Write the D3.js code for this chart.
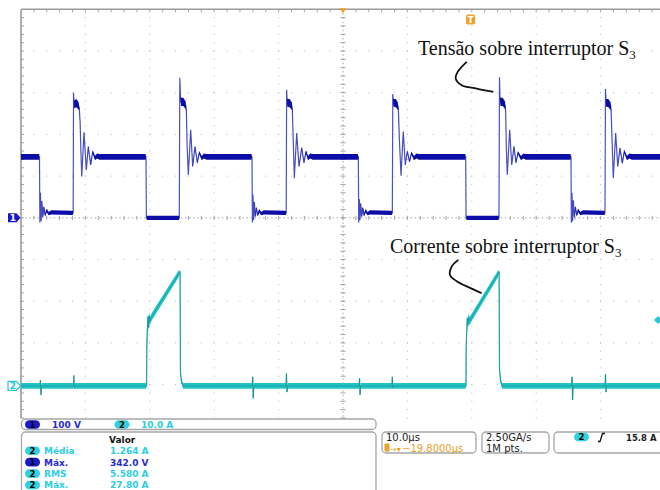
<!DOCTYPE html>
<html><head><meta charset="utf-8">
<script src="https://cdn.jsdelivr.net/npm/d3@7"></script>
<style>html,body{margin:0;padding:0;background:#fff;} svg{display:block;}</style>
</head><body>
<svg id="c" width="660" height="490"></svg>
<script>
// ---------------- DATA ----------------
// Channel 1: voltage across switch S3  [time µs, volts, noise band ±V]
const ch1Trace = [
 [0.00,146,7],[2.82,146,7],[2.87,146,0],[2.93,-11,0],[3.02,60,2],[3.12,-8,2],[3.24,40,2],[3.38,2,3],[3.55,26,3],[3.75,6,3],[3.98,18,4],[4.3,10,4],[4.7,13,5],
 [8.05,12,5],[8.10,12,0],[8.16,300,0],[8.24,272,9],[8.6,275,10],[8.95,268,9],[9.05,262,3],[9.18,230,1],[9.30,160,1],[9.43,99,1],[9.78,205,1],[10.14,115,1],[10.45,171,2],[10.82,127,2],[11.13,159,3],[11.49,143,5],[11.8,148,6],[12.2,146,7],
 [19.35,146,7],[19.41,146,0],[19.47,0,0],[19.55,0,5],
 [24.52,0,5],[24.58,0,0],[24.66,336,0],[24.76,290,4],[24.84,278,10],[25.2,278,10],[25.57,270,9],[25.68,255,2],[25.80,170,1],[25.98,103,1],[26.35,211,1],[26.66,123,1],[27.02,171,2],[27.38,132,2],[27.69,156,3],[28.06,143,5],[28.4,148,6],[28.8,146,7],
 [35.80,146,7],[35.87,146,0],[35.93,-11,0],[36.02,55,2],[36.12,-6,2],[36.24,38,2],[36.38,3,3],[36.55,24,3],[36.75,6,3],[36.98,17,4],[37.3,10,4],[37.7,13,5],
 [41.13,12,5],[41.18,12,0],[41.25,307,0],[41.33,276,9],[41.7,275,10],[42.05,268,9],[42.13,260,3],[42.25,200,1],[42.44,95,1],[42.81,203,1],[43.17,123,1],[43.59,168,2],[43.94,132,2],[44.25,159,3],[44.57,143,5],[44.9,148,6],[45.3,146,7],
 [52.32,146,7],[52.38,146,0],[52.44,-11,0],[52.53,45,2],[52.63,-6,2],[52.75,35,2],[52.9,3,3],[53.07,24,3],[53.27,6,3],[53.5,17,4],[53.8,10,4],[54.2,13,5],
 [57.60,12,5],[57.66,12,0],[57.73,297,0],[57.81,276,9],[58.2,275,10],[58.52,268,9],[58.6,260,3],[58.75,190,1],[59.01,101,1],[59.36,207,1],[59.67,127,1],[59.98,159,2],[60.33,135,2],[60.64,155,3],[61.02,143,5],[61.4,148,6],[61.8,146,7],
 [68.99,146,7],[69.05,146,0],[69.11,0,0],[69.18,0,5],
 [74.16,0,5],[74.22,0,0],[74.30,337,0],[74.38,285,4],[74.45,278,10],[74.8,278,10],[75.16,270,9],[75.26,255,2],[75.36,170,1],[75.51,103,1],[75.88,211,1],[76.20,127,1],[76.55,171,2],[76.86,132,2],[77.17,156,3],[77.64,143,5],[78.0,148,6],[78.4,146,7],
 [85.34,146,7],[85.40,146,0],[85.46,-12,0],[85.55,60,2],[85.65,-8,2],[85.77,42,2],[85.92,2,3],[86.09,26,3],[86.29,6,3],[86.52,18,4],[86.85,10,4],[87.25,13,5],
 [90.62,12,5],[90.68,12,0],[90.76,309,0],[90.84,276,9],[91.2,275,10],[91.55,268,9],[91.63,260,3],[91.77,190,1],[91.97,95,1],[92.34,203,1],[92.66,123,1],[93.01,167,2],[93.37,131,2],[93.68,159,3],[94.10,143,5],[94.45,148,6],[94.85,146,7],
 [100,146,7]
];
// Channel 2: current through switch S3  [time µs, amperes, noise band ±A]
const ch2Trace = [
 [0,0,0.7],
 [2.95,0,0.7],[3.02,1.4,0],[3.1,-2.2,0],[3.18,0,0.7],
 [8.15,0,0.7],[8.2,2.5,0],[8.28,-0.6,0],[8.35,0,0.7],
 [19.45,0,0.7],[19.50,0,0],[19.54,9.7,0],[19.62,13.4,0.6],[19.72,16.6,1.0],[19.82,14.0,1.2],[19.92,16.8,1.0],[20.03,15.6,1.0],[20.3,16.6,0.9],[24.50,26.9,0.8],[24.64,27.2,0.4],[24.70,27.3,0],[24.76,3.3,0],[24.9,1.2,0.5],[25.16,0,0.7],
 [35.9,0,0.7],[35.98,2.2,0],[36.06,-3.0,0],[36.14,0,0.7],
 [41.15,0,0.7],[41.22,3.0,0],[41.30,-1.5,0],[41.38,0,0.7],
 [52.5,0,0.7],[52.57,1.8,0],[52.65,-2.2,0],[52.73,0,0.7],
 [57.6,0,0.7],[57.66,2.2,0],[57.74,-0.6,0],[57.82,0,0.7],
 [69.05,0,0.7],[69.10,0,0],[69.13,9.7,0],[69.30,16.2,0.8],[69.4,14.5,1.2],[69.5,16.5,1.0],[69.65,15.5,1.0],[69.9,16.2,0.9],[74.05,26.8,0.8],[74.18,27.2,0.4],[74.24,27.3,0],[74.30,4.2,0],[74.45,1.4,0.5],[74.69,0,0.7],
 [85.5,0,0.7],[85.57,2.2,0],[85.65,-3.4,0],[85.73,0,0.7],
 [90.7,0,0.7],[90.76,2.8,0],[90.84,-1.5,0],[90.92,0,0.7],
 [100,0,0.7]
];
// Scope settings / readouts
const voltsPerDiv = 100, ampsPerDiv = 10, usPerDiv = 10;
const ch2OffsetDiv = -4.03;          // ch2 ground position (divisions from centre)
const triggerDelay = 19.8;           // µs, trigger to the right of centre
const triggerLevel = 15.8;           // A
const channelScaleLabels = ["100 V", "10.0 A"];
const measChannels = [2, 1, 2, 2];
const measNames = ["Média", "Máx.", "RMS", "Máx."];
const measValues = ["1.264 A", "342.0 V", "5.580 A", "27.80 A"];
const timebaseText = ["10.0µs", "−19.8000µs"];
const acquisitionText = ["2.50GA/s", "1M pts."];
const triggerText = "15.8 A";
const annotations = ["Tensão sobre interruptor S", "Corrente sobre interruptor S"];
// leader lines, in data units: [µs, V] and [µs, A]
const leaderV = [[69.21,374],[67.81,350],[67.50,334],[68.43,318],[70.76,310],[73.34,302]];
const leaderA = [[67.90,30.2],[66.88,28.6],[66.61,26.6],[67.66,25.1],[69.72,23.5],[71.54,22.2]];

// ---------------- LAYOUT ----------------
const svg = d3.select('#c');
svg.append('rect').attr('width',660).attr('height',490).attr('fill','#fff');
const gx0 = 21, gy0 = 9.3, divX = 64.4, divY = 41.7, plotBottom = 418.5;
const x = d3.scaleLinear().domain([0, 10*usPerDiv]).range([gx0, gx0 + 10*divX]);
const yV = d3.scaleLinear().domain([-5*voltsPerDiv, 5*voltsPerDiv]).range([gy0 + 10*divY, gy0]);
const yA = d3.scaleLinear().domain([(-5 - ch2OffsetDiv)*ampsPerDiv, (5 - ch2OffsetDiv)*ampsPerDiv]).range([gy0 + 10*divY, gy0]);

const grid = svg.append('g');
const dotCol = '#b4b4b4';
// dotted grid lines
for (let k = 1; k < 10; k++) {
  if (k === 5) continue;
  const gx = x(k*usPerDiv);
  for (let j = 1; gy0 + j*divY/5 < plotBottom; j++) {
    grid.append('rect').attr('x', gx-0.5).attr('y', gy0 + j*divY/5 - 0.5).attr('width',1).attr('height',1).attr('fill',dotCol);
  }
}
for (let k = -4; k <= 4; k++) {
  if (k === 0) continue;
  const gy = yV(k*voltsPerDiv);
  for (let i = 1; gx0 + i*divX/5 < 662; i++) {
    grid.append('rect').attr('x', gx0 + i*divX/5 - 0.5).attr('y', gy-0.5).attr('width',1).attr('height',1).attr('fill',dotCol);
  }
}
// centre lines with ticks
const cx = x(5*usPerDiv), cy = yV(0);
grid.append('line').attr('x1',cx).attr('x2',cx).attr('y1',gy0).attr('y2',plotBottom)
  .attr('stroke','#a8a8a8').attr('stroke-width',1).attr('stroke-dasharray','1.5,2.6');
grid.append('line').attr('x1',gx0).attr('x2',662).attr('y1',cy).attr('y2',cy)
  .attr('stroke','#a8a8a8').attr('stroke-width',1).attr('stroke-dasharray','1.5,2.6');
for (let j = 1; gy0 + j*divY/5 < plotBottom; j++) {
  const yy = gy0 + j*divY/5;
  grid.append('line').attr('x1',cx-2.5).attr('x2',cx+2.5).attr('y1',yy).attr('y2',yy).attr('stroke','#999').attr('stroke-width',0.9);
  grid.append('line').attr('x1',gx0).attr('x2',gx0+3).attr('y1',yy).attr('y2',yy).attr('stroke','#999').attr('stroke-width',0.9);
}
for (let i = 1; gx0 + i*divX/5 < 662; i++) {
  const xx = gx0 + i*divX/5;
  grid.append('line').attr('x1',xx).attr('x2',xx).attr('y1',cy-2).attr('y2',cy+2).attr('stroke','#999').attr('stroke-width',0.9);
  grid.append('line').attr('x1',xx).attr('x2',xx).attr('y1',gy0).attr('y2',gy0+3).attr('stroke','#999').attr('stroke-width',0.9);
}
// frame
grid.append('line').attr('x1',gx0).attr('x2',662).attr('y1',gy0).attr('y2',gy0).attr('stroke','#9a9a9a').attr('stroke-width',1.6);
grid.append('line').attr('x1',gx0).attr('x2',gx0).attr('y1',gy0).attr('y2',plotBottom).attr('stroke','#9a9a9a').attr('stroke-width',1.6);

// ---------------- TRACES ----------------
const tr = svg.append('g');
const lineA = d3.line().x(d => x(d[0])).y(d => yA(d[1]));
const areaA = d3.area().x(d => x(d[0])).y0(d => yA(d[1]-d[2])).y1(d => yA(d[1]+d[2]));
tr.append('path').datum(ch2Trace).attr('d', lineA).attr('fill','none').attr('stroke','#3cb8b8').attr('stroke-width',1.2);
tr.append('path').datum(ch2Trace).attr('d', areaA).attr('fill','#22c4c6');
tr.append('path').datum(ch2Trace).attr('d', lineA).attr('fill','none').attr('stroke','#128484').attr('stroke-width',0.7).attr('opacity',0.75);

const lineV = d3.line().x(d => x(d[0])).y(d => yV(d[1]));
const areaV = d3.area().x(d => x(d[0])).y0(d => yV(d[1]-d[2])).y1(d => yV(d[1]+d[2]));
tr.append('path').datum(ch1Trace).attr('d', lineV).attr('fill','none').attr('stroke','#4a52c4').attr('stroke-width',1.2);
tr.append('path').datum(ch1Trace).attr('d', areaV).attr('fill','#0c0ca6');

// ---------------- MARKERS ----------------
const mk = svg.append('g');
// ch1 ground marker
const g1 = yV(0);
mk.append('path').attr('d', `M8,${g1-4.5}H16.5L20.5,${g1}L16.5,${g1+4.5}H8Z`).attr('fill','#1818c8');
mk.append('text').attr('x',13).attr('y',g1+3.3).attr('text-anchor','middle').attr('font-family','DejaVu Sans').attr('font-weight','bold').attr('font-size',9).attr('fill','#fff').text('1');
// ch2 ground marker
const g2 = yA(0);
mk.append('path').attr('d', `M8,${g2-4.5}H16.5L20.5,${g2}L16.5,${g2+4.5}H8Z`).attr('fill','#fff').attr('stroke','#22c8d0').attr('stroke-width',1.2);
mk.append('text').attr('x',13).attr('y',g2+3.3).attr('text-anchor','middle').attr('font-family','DejaVu Sans').attr('font-weight','bold').attr('font-size',9).attr('fill','#22c8d0').text('2');
// expansion point (centre) marker
mk.append('path').attr('d', `M${cx-3.5},${gy0-1}L${cx+3.5},${gy0-1}L${cx},${gy0+4}Z`).attr('fill','#f0a028');
// trigger position marker
const tx = x(5*usPerDiv + triggerDelay);
mk.append('rect').attr('x',tx-4.5).attr('y',14.5).attr('width',9).attr('height',10).attr('rx',2).attr('fill','#f0a028');
mk.append('text').attr('x',tx).attr('y',23).attr('text-anchor','middle').attr('font-family','DejaVu Sans').attr('font-weight','bold').attr('font-size',9).attr('fill','#fff').text('T');
// trigger level marker
const ty = yA(triggerLevel);
mk.append('path').attr('d', `M${658-4},${ty}L658,${ty-4}L${658+4},${ty}L658,${ty+4}Z`).attr('fill','#22c8d8');

// ---------------- ANNOTATIONS ----------------
const an = svg.append('g').attr('font-family','Liberation Serif, Times New Roman, serif').attr('fill','#111');
const t1 = an.append('text').attr('x', x(61.65)).attr('y', yV(390)).attr('font-size',20);
t1.append('tspan').text(annotations[0]);
t1.append('tspan').attr('font-size',13).attr('dy',4).text('3');
const t2 = an.append('text').attr('x', x(57.3)).attr('y', yA(31.9)).attr('font-size',20);
t2.append('tspan').text(annotations[1]);
t2.append('tspan').attr('font-size',13).attr('dy',4).text('3');
const leadV = d3.line().x(d => x(d[0])).y(d => yV(d[1])).curve(d3.curveCatmullRom);
const leadA = d3.line().x(d => x(d[0])).y(d => yA(d[1])).curve(d3.curveCatmullRom);
an.append('path').datum(leaderV).attr('d', leadV).attr('fill','none').attr('stroke','#111').attr('stroke-width',1.8);
an.append('path').datum(leaderA).attr('d', leadA).attr('fill','none').attr('stroke','#111').attr('stroke-width',1.8);

// ---------------- READOUTS ----------------
const ro = svg.append('g').attr('font-family','DejaVu Sans, sans-serif');
const boxStroke = '#a6a6a6';
const blue = '#2a2ad0', cyan = '#2ccfdc';
const chCol = c => c === 1 ? blue : cyan;
const ovalFill = c => c === 1 ? '#1a1ac8' : '#2fd2de';
function oval(g, cxp, cyp, ch) {
  g.append('rect').attr('x', cxp-7.5).attr('y', cyp-4.3).attr('width',15).attr('height',8.6).attr('rx',4.3).attr('fill', ovalFill(ch));
  g.append('text').attr('x', cxp).attr('y', cyp+3.2).attr('text-anchor','middle').attr('font-weight','bold').attr('font-size',8.5).attr('fill','#000').text(ch);
}
ro.append('rect').attr('x',21.5).attr('y',419).attr('width',354.5).attr('height',10.5).attr('rx',4).attr('fill','#fff').attr('stroke',boxStroke).attr('stroke-width',1.3);
oval(ro, 32.5, 424.5, 1);
ro.append('text').attr('x',52).attr('y',428).attr('font-size',9).attr('font-weight','bold').attr('fill',blue).text(channelScaleLabels[0]);
oval(ro, 122, 424.5, 2);
ro.append('text').attr('x',141).attr('y',428).attr('font-size',9).attr('font-weight','bold').attr('fill',cyan).text(channelScaleLabels[1]);

ro.append('rect').attr('x',21.5).attr('y',432).attr('width',354.5).attr('height',70).attr('rx',4).attr('fill','#fff').attr('stroke',boxStroke).attr('stroke-width',1.3);
ro.append('text').attr('x',109).attr('y',442.5).attr('font-size',9).attr('font-weight','bold').attr('fill','#111').text('Valor');
measNames.forEach((nm, i) => {
  const cyr = 450.7 + i*11.45;
  oval(ro, 32.5, cyr, measChannels[i]);
  ro.append('text').attr('x',44).attr('y',cyr+3.4).attr('font-size',9).attr('font-weight','bold').attr('fill',chCol(measChannels[i])).text(nm);
  ro.append('text').attr('x',110).attr('y',cyr+3.4).attr('font-size',9).attr('font-weight','bold').attr('fill',chCol(measChannels[i])).text(measValues[i]);
});

// timebase box
ro.append('rect').attr('x',382).attr('y',432).attr('width',94).attr('height',21).attr('rx',4).attr('fill','#fff').attr('stroke',boxStroke).attr('stroke-width',1.3);
ro.append('text').attr('x',386).attr('y',441).attr('font-size',10).attr('fill','#1a1a1a').text(timebaseText[0]);
ro.append('rect').attr('x',384.5).attr('y',443.5).attr('width',5).attr('height',8).attr('rx',1).attr('fill','#f0a028');
ro.append('text').attr('x',390).attr('y',451.5).attr('font-size',8).attr('fill','#f0a028').text('→▾');
ro.append('text').attr('x',402).attr('y',451.5).attr('font-size',10).attr('fill','#f0a028').text(timebaseText[1]);
// acquisition box
ro.append('rect').attr('x',482).attr('y',432).attr('width',67).attr('height',21).attr('rx',4).attr('fill','#fff').attr('stroke',boxStroke).attr('stroke-width',1.3);
ro.append('text').attr('x',486).attr('y',441).attr('font-size',10).attr('fill','#1a1a1a').text(acquisitionText[0]);
ro.append('text').attr('x',486).attr('y',451.5).attr('font-size',10).attr('fill','#1a1a1a').text(acquisitionText[1]);
// trigger box
ro.append('rect').attr('x',554).attr('y',432).attr('width',120).attr('height',21).attr('rx',4).attr('fill','#fff').attr('stroke',boxStroke).attr('stroke-width',1.3);
oval(ro, 581.5, 437, 2);
ro.append('path').attr('d','M598,441.5 L600,441.5 L602.5,433.5 L605,433.5').attr('fill','none').attr('stroke','#111').attr('stroke-width',1.3);
ro.append('text').attr('x',626).attr('y',441).attr('font-size',8.5).attr('font-weight','bold').attr('fill','#1a1a1a').text(triggerText);
</script>
</body></html>
